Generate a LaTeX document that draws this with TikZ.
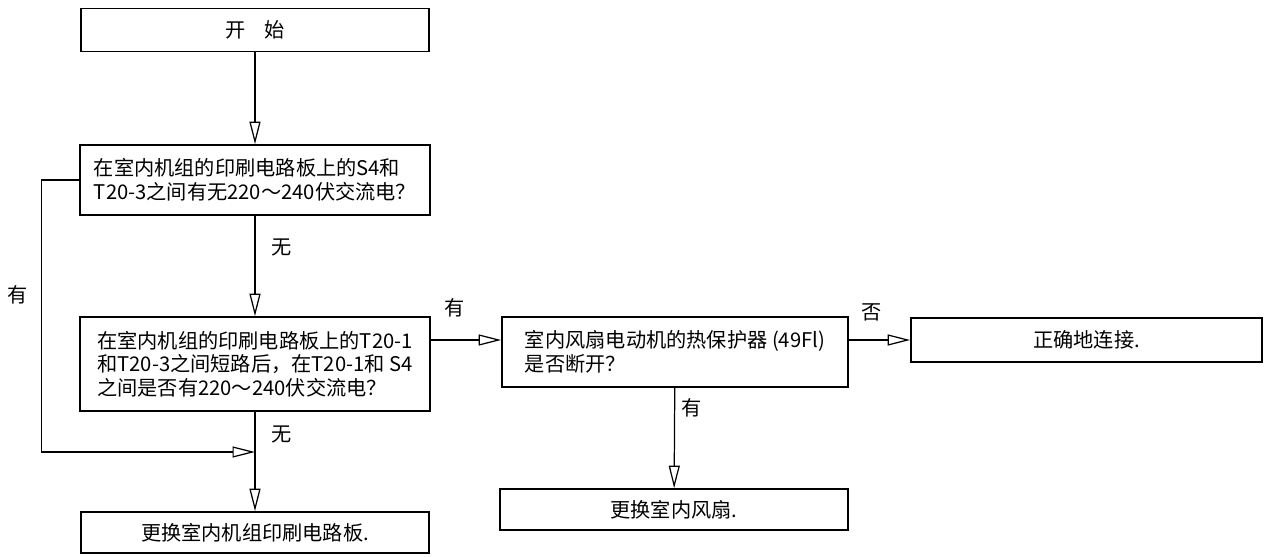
\documentclass[tikz,border=0pt]{standalone}
\usepackage{fontspec}
\newfontfamily\cjk{Noto Sans CJK SC}
\usetikzlibrary{arrows.meta}

\begin{document}
\begin{tikzpicture}[
  box/.style={draw, line width=0.9pt, minimum width=6.96cm, minimum height=0.86cm, inner sep=0pt, font=\cjk\fontsize{11.5}{13}\selectfont},
  qbox/.style={draw, line width=0.9pt, align=left, minimum width=7cm, inner xsep=0.2cm, minimum height=#1, font=\cjk\fontsize{11.5}{13.5}\selectfont},
  lbl/.style={font=\cjk\fontsize{11.5}{13}\selectfont},
  flow/.style={line width=0.7pt, -{Triangle[open,length=4.5mm,width=2.2mm]}},
]
\useasboundingbox (0,0) rectangle (25.3,11.14);

\node[box] (start) at (5.1,10.54) {开\hspace{0.9em}始};
\node[qbox=1.4cm] (q1) at (5.1,7.54) {在室内机组的印刷电路板上的S4和\\T20-3之间有无220～240伏交流电？};
\node[qbox=1.88cm] (q2) at (5.1,3.86) {在室内机组的印刷电路板上的T20-1\\和T20-3之间短路后，在T20-1和 S4\\之间是否有220～240伏交流电？};
\node[box, minimum height=0.82cm] (r1) at (5.1,0.49) {更换室内机组印刷电路板.};
\node[qbox=1.4cm, minimum width=6.92cm] (q3) at (13.5,4.1) {室内风扇电动机的热保护器 (49Fl)\\是否断开？};
\node[box, minimum width=7.02cm, minimum height=0.88cm] (r2) at (21.73,4.34) {正确地连接.};
\node[box, minimum height=0.82cm] (r3) at (13.48,0.95) {更换室内风扇.};

\coordinate (join) at (5.1,2.1);

\draw[flow] (start) -- (q1);
\draw[flow] (q1) -- (q2);
\draw[flow] (q1.west) -- ++(-0.76,0) |- (join);
\draw[line width=0.7pt] (q2) -- (join);
\draw[flow] (join) -- (r1);
\draw[flow] (q2.east |- r2.west) -- (q3.west |- r2.west);
\draw[flow] (q3.east |- r2.west) -- (r2.west);
\draw[flow] (q3) -- (r3);

\node[lbl] (l1) at (0.36,5.24) {有};
\node[lbl] (l2) at (5.64,6.18) {无};
\node[lbl] (l3) at (5.64,2.44) {无};
\node[lbl] (l4) at (9.1,4.98) {有};
\node[lbl] (l5) at (17.44,4.9) {否};
\node[lbl] (l6) at (13.84,2.98) {有};
\end{tikzpicture}
\end{document}
